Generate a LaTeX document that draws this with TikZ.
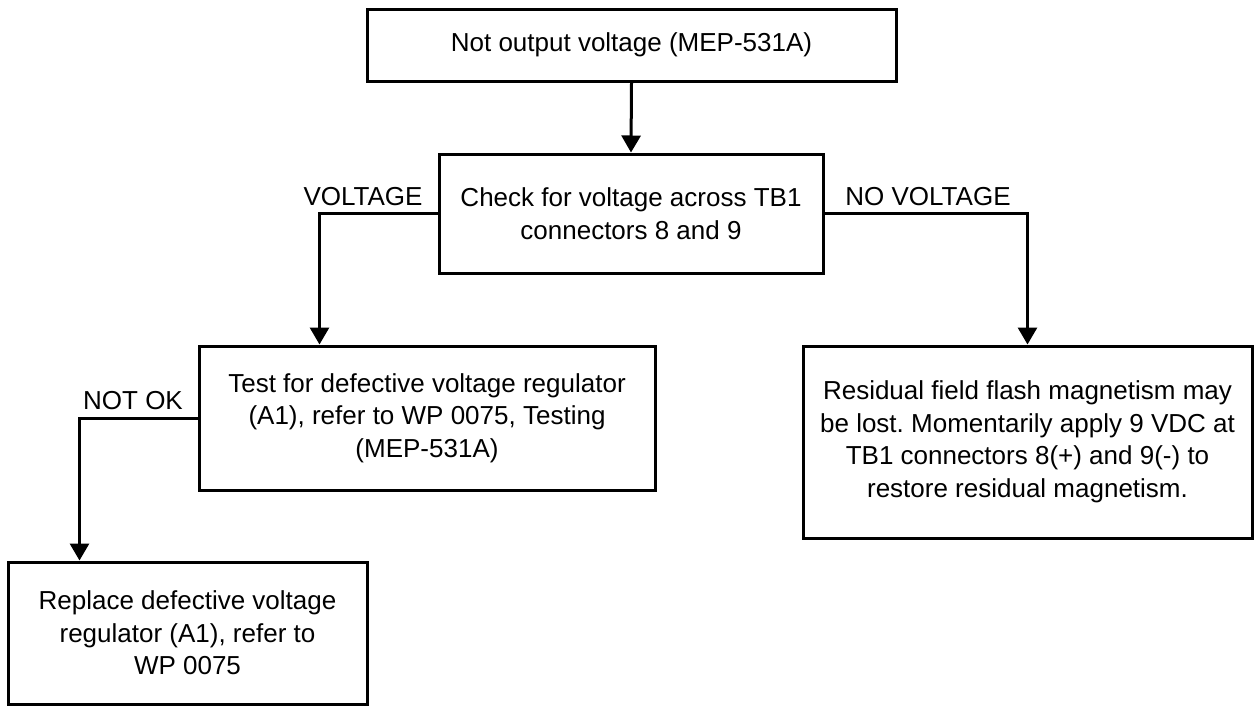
\documentclass[tikz,border=0pt]{standalone}
\usepackage{fontspec}
\setmainfont{Liberation Sans}
\usetikzlibrary{arrows.meta}
\begin{document}
\frenchspacing
\begin{tikzpicture}[x=1pt,y=-1pt,
  every node/.style={font=\fontsize{26}{32.5}\selectfont},
  box/.style={draw=black, line width=3pt, align=center, inner sep=0pt, fill=white},
  lbl/.style={inner sep=0pt},
  conn/.style={line width=3pt, line join=miter},
  arr/.style={conn, -{Triangle[length=17pt,width=19pt]}}]
\useasboundingbox (0,0) rectangle (1254,705);
\fill[white] (0,0) rectangle (1254,705);

\node[box, minimum width=529pt, minimum height=72.5pt] (b1) at (631.5,45.25) {Not output voltage (MEP-531A)};
\node[box, minimum width=384pt, minimum height=119pt] (b2) at (631,213.5) {Check for voltage across TB1\\connectors 8 and 9};
\node[box, minimum width=456pt, minimum height=144pt] (b3) at (427,418) {Test for defective voltage regulator\\(A1), refer to WP 0075, Testing\\(MEP-531A)};
\node[box, minimum width=449pt, minimum height=192pt] (b4) at (1027.5,442) {Residual field flash magnetism may\\be lost. Momentarily apply 9 VDC at\\TB1 connectors 8(+) and 9(-) to\\restore residual magnetism.};
\node[box, minimum width=359pt, minimum height=142pt] (b5) at (187.5,633) {Replace defective voltage\\regulator (A1), refer to\\WP 0075};

\node[lbl] (l1) at (363,197) {VOLTAGE};
\node[lbl] (l2) at (928,197) {NO VOLTAGE};
\node[lbl] (l3) at (133,401) {NOT OK};

\coordinate (c1) at (319.5,213.5);
\coordinate (c2) at (1027.5,213.5);
\coordinate (c3) at (79.5,418);

\draw[arr] (b1.south) -- (b2.north);
\draw[arr] (b2.west) -- (c1) -- (c1 |- b3.north);
\draw[arr] (b2.east) -- (c2) -- (b4.north);
\draw[arr] (b3.west) -- (c3) -- (c3 |- b5.north);
\end{tikzpicture}
\end{document}
